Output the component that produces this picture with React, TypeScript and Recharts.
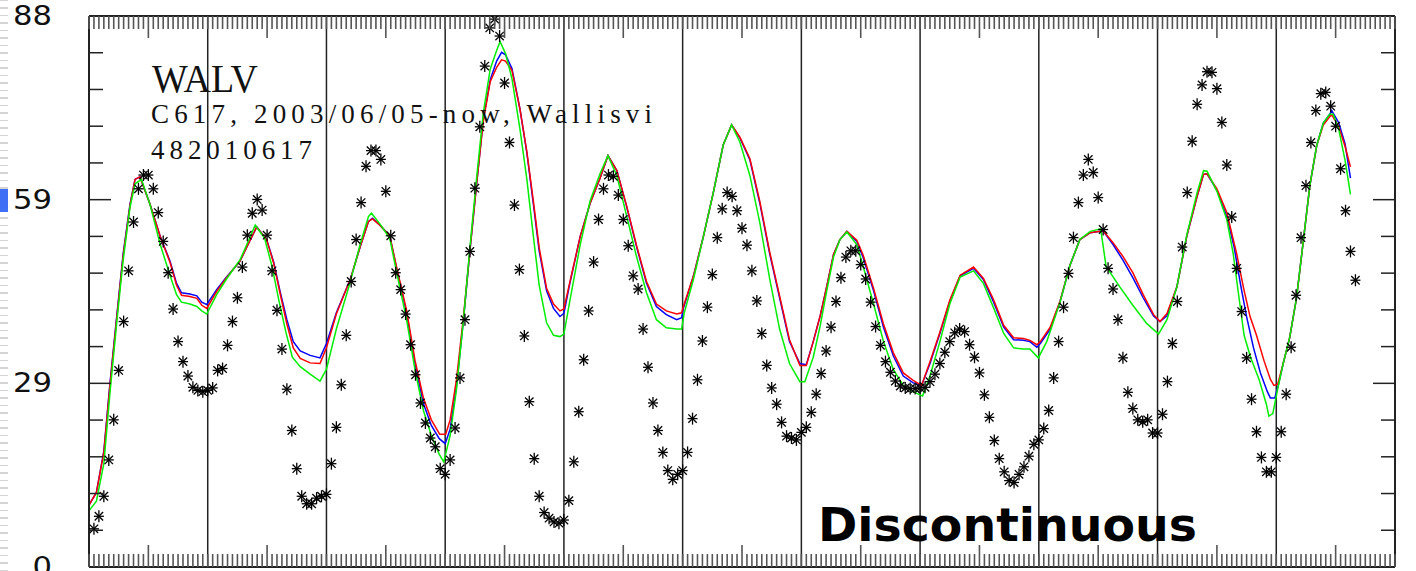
import React from 'react';
import { ComposedChart, Line, Scatter, XAxis, YAxis, ReferenceLine } from 'recharts';

// ---- data ----
const FIRST_OBS_HOUR = 1;
const observedHourly: number[] = [
  // day 1
  6.1, 8.1, 11.3, 17.1, 23.5, 31.4, 39.2, 47.3, 55.1, 60.4, 62.6, 62.6, 60.4, 56.6, 52, 47, 41.2, 36, 32.8, 30.5, 28.7, 28.2, 28, 28.2,
  // day 2
  28.6, 31.4, 31.7, 35.4, 39.2, 43, 47.9, 53, 56.5, 58.7, 57, 53, 47.3, 41, 34.8, 28.4, 21.8, 15.7, 11.3, 10.1, 10.1, 11, 11.3, 11.6,
  // day 3
  16.5, 22.3, 29.1, 37.0, 45.6, 52.3, 58.2, 64, 66.5, 66.5, 65.1, 60.0, 52.9, 47, 44.3, 40.4, 35.5, 30.7, 26.2, 23, 20.6, 19.2, 15.7, 14.8,
  // day 4
  17.1, 22.2, 30.2, 39.5, 50.4, 60.5, 70.3, 80, 86.1, 87.5, 84.8, 77.3, 67.8, 57.8, 47.5, 36.9, 26.4, 17.3, 11.3, 8.7, 7.8, 7.2, 7.0, 7.5,
  // day 5
  10.6, 16.8, 24.8, 33.1, 40.9, 48.7, 55.5, 60.4, 62.6, 62.4, 59.4, 55.5, 51.3, 46.5, 44.4, 38.0, 31.9, 26.2, 21.8, 18.3, 15.4, 14.0, 14.8, 15.4,
  // day 6
  18.3, 23.7, 29.9, 36.1, 41.5, 46.7, 52.6, 57.2, 59.8, 59.2, 56.9, 54.1, 51.4, 47.3, 42.5, 37.3, 32.2, 28.6, 26.0, 23.1, 20.9, 20.6, 20.3, 21.5,
  // day 7
  22.3, 24.7, 27.6, 30.9, 34.5, 38.3, 42.4, 46.2, 49.5, 50.5, 50.5, 48.3, 46.0, 42.3, 38.4, 35.4, 32.8, 31.1, 29.7, 28.9, 28.6, 28.5, 28.5, 28.6,
  // day 8
  28.7, 29.6, 30.8, 32.5, 34.3, 36.0, 37.4, 38.0, 37.6, 35.5, 33.5, 31.0, 27.5, 23.9, 20.2, 17.3, 15.2, 13.8, 13.5, 14.8, 16.0, 17.7, 19.6, 20.3,
  // day 9
  22.1, 25.0, 30.2, 36.0, 41.5, 46.9, 52.6, 58.2, 62.6, 65.1, 63.0, 59.0, 53.9, 47.7, 44.4, 39.5, 33.4, 27.9, 25.3, 23.5, 23.2, 23.5, 21.4, 21.4,
  // day 10
  24.4, 29.6, 35.7, 42.4, 51.1, 59.8, 68, 73.9, 77, 79.1, 79, 76.4, 71, 64.2, 55.9, 47.7, 40.8, 33.4, 26.8, 21.6, 17.5, 15.2, 15.2, 17.5,
  // day 11
  21.6, 27.6, 35.1, 43.4, 52.6, 60.9, 67.8, 72.9, 75.6, 75.8, 73.6, 70.4, 63.6, 56.9, 50.4, 45.8,
];

const blueModel: [number, number][] = [
  [0, 9.9], [1.5, 11.9], [3, 18.5], [4.2, 29], [5.6, 40], [6.9, 50], [8.3, 58], [9.3, 61.9], [10.3, 62.3], [12.3, 58], [14.4, 52.8],
  [16.4, 48.8], [17.7, 45.3], [18.7, 43.8], [20.4, 43.6], [21.8, 43.3], [22.8, 42.3], [23.8, 41.9], [25.8, 44.3], [27.8, 46.3],
  [29.2, 47.6], [30.5, 48.8], [31.9, 51.1], [33.9, 54.3], [35.9, 52.3], [37.3, 48.8], [38.6, 44.1], [40, 39.5], [41.3, 36],
  [42.7, 34.5], [44.7, 33.8], [46.7, 33.4], [48, 35.7], [50, 40.6], [52.8, 45.9], [54.8, 51.1], [56.5, 55.2], [57.3, 55.7],
  [58.8, 54.6], [60.8, 52.9], [62.2, 47.6], [64.2, 40.6], [65.9, 32.5], [67.6, 26.1], [69.2, 22.6], [70.8, 20.5], [72, 19.7],
  [73, 22.0], [74.3, 29], [75.7, 39.5], [77, 50.5], [78.4, 61.5], [79.7, 71.4], [81.1, 77.8], [82.4, 80.8], [83.4, 82.2],
  [84.2, 81.8], [85.5, 79.6], [87.1, 73.2], [88.5, 66.2], [89.8, 58.1], [91, 50.5], [92.5, 44.1], [93.9, 41.3], [95.2, 40.0],
  [96, 40.5], [97.2, 45.3], [99.3, 52.8], [101.3, 58.1], [103.3, 62.1], [104.9, 65.7], [106.7, 63.3], [108.7, 57.5],
  [110.7, 51.1], [112.7, 45.3], [114.7, 41.6], [116.7, 40.3], [118.8, 39.5], [119.8, 39.8], [120.1, 41.2], [122.2, 46.5],
  [124.2, 52.8], [126.2, 59.8], [128.2, 67.4], [129.9, 70.6], [131.6, 68.5], [133.6, 65], [135.6, 58.1], [137.6, 50],
  [139.6, 43], [141.6, 36], [143.7, 32.5], [145, 32.3], [146.4, 36], [147.8, 40.1], [149.1, 44.7], [150.5, 49.9],
  [151.8, 52.3], [153.2, 53.6], [155.2, 52], [156.5, 49.4], [158.6, 44.1], [160.6, 38.3], [162.6, 33.7], [164.6, 30.5],
  [166.6, 29.4], [168.3, 29.0], [170, 32.5], [172, 37.3], [174, 42.4], [176.1, 46.5], [178.8, 47.7], [180.8, 45.9],
  [182.8, 42.4], [184.9, 38.3], [186.9, 36.3], [188.9, 36.2], [190.2, 36.0], [191.6, 35.1], [192.3, 35.7], [194.3, 38],
  [196.3, 42.4], [198.3, 48.2], [200.3, 52.3], [202.4, 53.4], [205, 53.7], [207, 51.5], [209, 49], [211, 46.2],
  [213.1, 43], [215.2, 40.1], [216.5, 39.2], [217.9, 40.1], [219.9, 44.7], [221.9, 52.8], [224, 59.2], [225.3, 62.7],
  [226, 62.8], [228, 60.2], [230, 56], [231.5, 51], [232.8, 45], [234, 40], [235.4, 35], [236.8, 31], [238.2, 28.0],
  [238.8, 27], [239.7, 27], [240.4, 29], [241.4, 32.5], [242.7, 36.6], [244.1, 43], [245.5, 52.3], [246.8, 61],
  [248.2, 67.4], [249.5, 70.9], [250.8, 72.3], [251.2, 72.9], [252.6, 71], [253.9, 67.6], [255, 62.1],
];

const redModel: [number, number][] = [
  [0, 9.9], [1.5, 11.9], [3, 18.3], [4.2, 28.7], [5.6, 39.7], [6.9, 49.7], [8.3, 57.8], [9.3, 61.9], [10.3, 62.3], [12.3, 58],
  [14.4, 52.8], [16.4, 48.6], [17.7, 45], [18.7, 43.4], [20.4, 43.2], [21.8, 42.9], [22.8, 41.8], [23.8, 41.3], [25.8, 44],
  [27.8, 46.2], [29.2, 47.6], [30.5, 48.8], [31.9, 51.1], [33.9, 54.3], [35.9, 52.3], [37.3, 48.6], [38.6, 43.8], [40, 38.8],
  [41.3, 35], [42.7, 33.3], [44.7, 32.6], [46.7, 32.5], [48, 35], [50, 40.4], [52.8, 45.9], [54.8, 51.1], [56.5, 55.2],
  [57.3, 55.6], [58.8, 54.6], [60.8, 52.9], [62.2, 47.8], [64.2, 41], [65.9, 33], [67.6, 27], [69.2, 23.5], [70.9, 21.2],
  [72.1, 21.2], [73, 23.5], [74.3, 30], [75.7, 40], [77, 50.5], [78.4, 61.5], [79.7, 71.2], [81.1, 77.5], [82.4, 79.8],
  [83.4, 81], [84.2, 80.8], [85.5, 79.3], [87.1, 73.2], [88.5, 66.4], [89.8, 58.6], [91, 51], [92.5, 44.5], [93.9, 42],
  [95.2, 40.9], [96, 41.2], [97.2, 45.5], [99.3, 52.8], [101.3, 58.1], [103.3, 62.1], [104.9, 65.7], [106.7, 63.3],
  [108.7, 57.6], [110.7, 51.3], [112.7, 45.6], [114.7, 42], [116.7, 40.9], [118.8, 40.4], [119.8, 40.6], [120.1, 41.5],
  [122.2, 46.5], [124.2, 52.8], [126.2, 59.8], [128.2, 67.4], [129.9, 70.6], [131.6, 68.6], [133.6, 65.2], [135.6, 58.4],
  [137.6, 50.3], [139.6, 43.3], [141.6, 36.3], [143.7, 32.2], [145, 32.2], [146.4, 36], [147.8, 40.1], [149.1, 44.7],
  [150.5, 49.9], [151.8, 52.3], [153.2, 53.6], [155.2, 52.2], [156.5, 49.8], [158.6, 44.5], [160.6, 38.8], [162.6, 34.2],
  [164.6, 31], [166.6, 29.8], [168.3, 29.0], [170, 32.8], [172, 37.5], [174, 42.6], [176.1, 46.6], [178.8, 47.9],
  [180.8, 46.1], [182.8, 42.8], [184.9, 38.6], [186.9, 36.6], [188.9, 36.5], [190.2, 36.2], [191.6, 35.5], [192.3, 36],
  [194.3, 38.3], [196.3, 42.5], [198.3, 48.2], [200.3, 52.3], [202.4, 53.4], [205, 53.7], [207, 51.8], [209, 49.6],
  [211, 47], [213.1, 43.5], [215.2, 40.3], [216.5, 39.2], [217.9, 40.5], [219.9, 44.7], [221.9, 52.8], [224, 59.2],
  [225.3, 62.7], [226, 62.8], [228, 60.4], [230, 56.6], [232, 50], [233.4, 44.5], [234.7, 40], [236, 37], [237.5, 33],
  [238.8, 30], [239.5, 29], [240.3, 29.2], [241.4, 32.5], [242.7, 36.6], [244.1, 43], [245.5, 52.3], [246.8, 61],
  [248.2, 67.4], [249.5, 70.6], [250.8, 71.9], [251.2, 72.2], [252.6, 70.4], [253.9, 67.2], [255, 63.9],
];

const greenModel: [number, number][] = [
  [0, 9], [1.5, 10.5], [3, 16.5], [4.2, 27.5], [5.6, 39], [6.9, 49], [8.3, 57.5], [9.3, 61.2], [10.6, 61.9], [12.3, 58],
  [14.4, 51.5], [16.4, 46.5], [17.7, 43.5], [18.7, 42.3], [20.4, 42], [21.8, 41.6], [22.8, 40.9], [23.8, 40.4], [25.8, 43.5],
  [27.8, 46], [29.2, 47.6], [30.5, 49], [31.9, 51.5], [33.6, 54.6], [35.5, 52.5], [37, 48], [38.4, 42.5], [39.8, 37.5],
  [41.1, 33.5], [42.7, 32], [44.7, 30.8], [46.7, 29.7], [48, 31.6], [50, 38], [52.8, 45.5], [54.8, 51.5], [56.5, 56],
  [57.1, 56.5], [58.8, 54.8], [60.8, 52.5], [62.2, 47], [64.2, 39.5], [65.9, 31.5], [67.6, 25], [69.2, 21], [70.8, 18],
  [71.7, 16.8], [73, 21], [74.3, 28.5], [75.7, 39.5], [77, 51], [78.4, 62.5], [79.7, 72.5], [81.1, 79.5], [82.4, 82.5],
  [83.1, 83.9], [84.2, 82], [85.5, 78], [87.1, 70], [88.5, 62], [89.8, 53], [91, 45], [92.5, 39], [93.9, 37], [95.2, 36.8],
  [96, 37.2], [97.2, 42.5], [99.3, 51.5], [101.3, 58.5], [103.3, 62.8], [104.9, 65.7], [106.7, 62.5], [108.7, 56],
  [110.7, 49.5], [112.7, 43.8], [114.7, 39.5], [116.7, 38.2], [118.8, 38], [119.8, 38], [120.3, 40.5], [122.2, 46],
  [124.2, 52.8], [126.2, 59.8], [128.2, 67.4], [129.9, 70.6], [131.6, 67.8], [133.6, 62.5], [135.6, 55], [137.6, 46],
  [139.6, 38], [141.6, 32.5], [143.7, 29.6], [144.7, 29.6], [146.4, 33.5], [147.8, 38.5], [149.1, 44], [150.5, 49.5],
  [151.8, 52.3], [153.2, 53.5], [155.2, 51.5], [156.5, 48], [158.6, 42], [160.6, 36], [162.6, 31.5], [164.6, 29],
  [166.6, 28], [168.5, 27.3], [170, 30.5], [172, 36], [174, 42], [176.1, 46.3], [178.8, 47.3], [180.8, 45.3],
  [182.8, 41.5], [184.9, 37.3], [186.9, 35], [188.9, 34.8], [190.2, 34.8], [191.9, 33.4], [193.6, 36], [196.3, 42.3],
  [198.3, 48.2], [200.3, 52.3], [202.4, 53.6], [204.5, 54], [205.6, 48], [208.4, 44.7], [211, 41.8], [213.8, 38.9],
  [216.2, 37.2], [217.9, 39.5], [219.9, 44.7], [221.9, 53], [224, 59.8], [225.3, 63.3], [226, 63.2], [228, 60],
  [230, 55.5], [231.3, 50], [232.3, 44], [233.5, 37], [234.8, 33.5], [236.5, 30], [238, 26], [238.5, 24.1],
  [239.3, 24.5], [240.3, 28.5], [241.4, 32.5], [242.7, 36.6], [244.1, 43], [245.5, 52.3], [246.8, 61], [248.2, 67.4],
  [249.5, 70.9], [250.8, 72.3], [251.5, 72.3], [252.6, 70], [253.9, 65], [255, 59.5],
];

const HOURS_TOTAL = 264;
const DAY_BOUNDARIES = [24, 48, 72, 96, 120, 144, 168, 192, 216, 240];
const HOUR_TICKS = Array.from({ length: HOURS_TOTAL + 1 }, (_, i) => i);
const Y_MAX = 88;
const Y_STEPS = 15;
const Y_TICKS = Array.from({ length: Y_STEPS + 1 }, (_, i) => (Y_MAX * i) / Y_STEPS);
const Y_TICK_LABELS = ['0', '29', '59', '88'];

// ---- derived series ----
const obsData = observedHourly.map((v, i) => ({ h: FIRST_OBS_HOUR + i, v }));
const toPts = (arr: [number, number][]) => arr.map(([h, v]) => ({ h, v }));
const blueData = toPts(blueModel);
const redData = toPts(redModel);
const greenData = toPts(greenModel);

const TICK_COLOR = '#555';
const FRAME_COLOR = '#222';

const isHalfDay = (h: number) => h % 12 === 0 && h % 24 !== 0;

const BottomTick = (props: any) => {
  const { x, y, payload } = props;
  const len = isHalfDay(payload.value) ? 22 : 13;
  return <line x1={x} x2={x} y1={y} y2={y - len} stroke={TICK_COLOR} strokeWidth={1.6} />;
};

const TopTick = (props: any) => {
  const { x, y, payload } = props;
  const len = isHalfDay(payload.value) ? 22 : 13;
  return <line x1={x} x2={x} y1={y} y2={y + len} stroke={TICK_COLOR} strokeWidth={1.6} />;
};

const LeftTick = (props: any) => {
  const { x, y, payload } = props;
  const k = Math.round((payload.value * Y_STEPS) / Y_MAX);
  const major = k % 5 === 0;
  const label = major ? Y_TICK_LABELS[k / 5] : null;
  return (
    <g>
      {k > 0 && k < Y_STEPS && (
        <line x1={x} x2={x + (major ? 22 : 14)} y1={y} y2={y} stroke={FRAME_COLOR} strokeWidth={1.5} />
      )}
      {label && (
        <text
          x={x - 37}
          y={y}
          dy={9}
          textAnchor="end"
          fontFamily="DejaVu Sans, sans-serif"
          fontSize={26}
          fill="#111"
          textLength={label.length * 19.5}
          lengthAdjust="spacingAndGlyphs"
        >
          {label}
        </text>
      )}
    </g>
  );
};

const RightTick = (props: any) => {
  const { x, y, payload } = props;
  const k = Math.round((payload.value * Y_STEPS) / Y_MAX);
  const major = k % 5 === 0;
  if (k <= 0 || k >= Y_STEPS) return <g />;
  return <line x1={x} x2={x - (major ? 22 : 14)} y1={y} y2={y} stroke={FRAME_COLOR} strokeWidth={1.5} />;
};

const Asterisk = (props: any) => {
  const { cx, cy } = props;
  if (cx == null || cy == null) return <g />;
  return (
    <g stroke="#000" strokeWidth={1.3}>
      <line x1={cx} y1={cy - 6} x2={cx} y2={cy + 6} />
      <line x1={cx - 5} y1={cy} x2={cx + 5} y2={cy} />
      <line x1={cx - 4.2} y1={cy - 4.2} x2={cx + 4.2} y2={cy + 4.2} />
      <line x1={cx - 4.2} y1={cy + 4.2} x2={cx + 4.2} y2={cy - 4.2} />
    </g>
  );
};

export default function App() {
  return (
    <div style={{ position: 'absolute', left: 0, top: 0, width: 1416, height: 571, background: '#fff', overflow: 'hidden' }}>
      <div
        style={{
          position: 'absolute',
          left: 0,
          top: 0,
          width: 8,
          height: 571,
          backgroundImage: 'repeating-linear-gradient(to bottom, #d4d4d4 0px, #d4d4d4 1.5px, transparent 1.5px, transparent 7.5px)',
        }}
      />
      <div style={{ position: 'absolute', left: 0, top: 189, width: 8, height: 23, background: '#3f6ff5' }} />
      <div style={{ position: 'absolute', left: 0, top: 0 }}>
        <ComposedChart width={1416} height={571} margin={{ top: 15, right: 0, bottom: 3, left: 0 }}>
          <XAxis
            xAxisId={0}
            dataKey="h"
            type="number"
            domain={[0, HOURS_TOTAL]}
            allowDataOverflow
            ticks={HOUR_TICKS}
            interval={0}
            height={1}
            tickSize={0}
            tickMargin={0}
            tick={BottomTick}
            axisLine={{ stroke: FRAME_COLOR, strokeWidth: 2 }}
            tickLine={false}
          />
          <XAxis
            xAxisId="top"
            orientation="top"
            dataKey="h"
            type="number"
            domain={[0, HOURS_TOTAL]}
            allowDataOverflow
            ticks={HOUR_TICKS}
            interval={0}
            height={1}
            tickSize={0}
            tickMargin={0}
            tick={TopTick}
            axisLine={{ stroke: FRAME_COLOR, strokeWidth: 2 }}
            tickLine={false}
          />
          <YAxis
            yAxisId={0}
            dataKey="v"
            type="number"
            domain={[0, Y_MAX]}
            allowDataOverflow
            ticks={Y_TICKS}
            interval={0}
            width={89}
            tickSize={0}
            tickMargin={0}
            tick={LeftTick}
            axisLine={{ stroke: FRAME_COLOR, strokeWidth: 2 }}
            tickLine={false}
          />
          <YAxis
            yAxisId="r"
            orientation="right"
            dataKey="v"
            type="number"
            domain={[0, Y_MAX]}
            allowDataOverflow
            ticks={Y_TICKS}
            interval={0}
            width={21}
            tickSize={0}
            tickMargin={0}
            tick={RightTick}
            axisLine={{ stroke: FRAME_COLOR, strokeWidth: 2 }}
            tickLine={false}
          />
          {DAY_BOUNDARIES.map((d) => (
            <ReferenceLine key={d} x={d} stroke={FRAME_COLOR} strokeWidth={1.5} />
          ))}
          <Line data={blueData} dataKey="v" stroke="#0000ff" strokeWidth={1.5} dot={false} isAnimationActive={false} type="linear" />
          <Line data={redData} dataKey="v" stroke="#ff0000" strokeWidth={1.5} dot={false} isAnimationActive={false} type="linear" />
          <Line data={greenData} dataKey="v" stroke="#00ee00" strokeWidth={1.5} dot={false} isAnimationActive={false} type="linear" />
          <Scatter data={obsData} dataKey="v" shape={Asterisk} isAnimationActive={false} />
        </ComposedChart>
      </div>
      <svg width={1416} height={571} style={{ position: 'absolute', left: 0, top: 0, pointerEvents: 'none' }}>
        <text x={152} y={92} fontFamily="Liberation Serif, serif" fontSize={40} fill="#111" textLength={106} lengthAdjust="spacingAndGlyphs">
          WALV
        </text>
        <text x={151} y={123} fontFamily="Liberation Serif, serif" fontSize={27} fill="#111" textLength={501} lengthAdjust="spacing">
          C617, 2003/06/05-now, Wallisvi
        </text>
        <text x={151} y={159} fontFamily="Liberation Serif, serif" fontSize={27} fill="#111" textLength={161} lengthAdjust="spacing">
          482010617
        </text>
        <text x={818} y={541} fontFamily="DejaVu Sans, sans-serif" fontWeight="bold" fontSize={47} fill="#000" textLength={379} lengthAdjust="spacingAndGlyphs">
          Discontinuous
        </text>
      </svg>
    </div>
  );
}
